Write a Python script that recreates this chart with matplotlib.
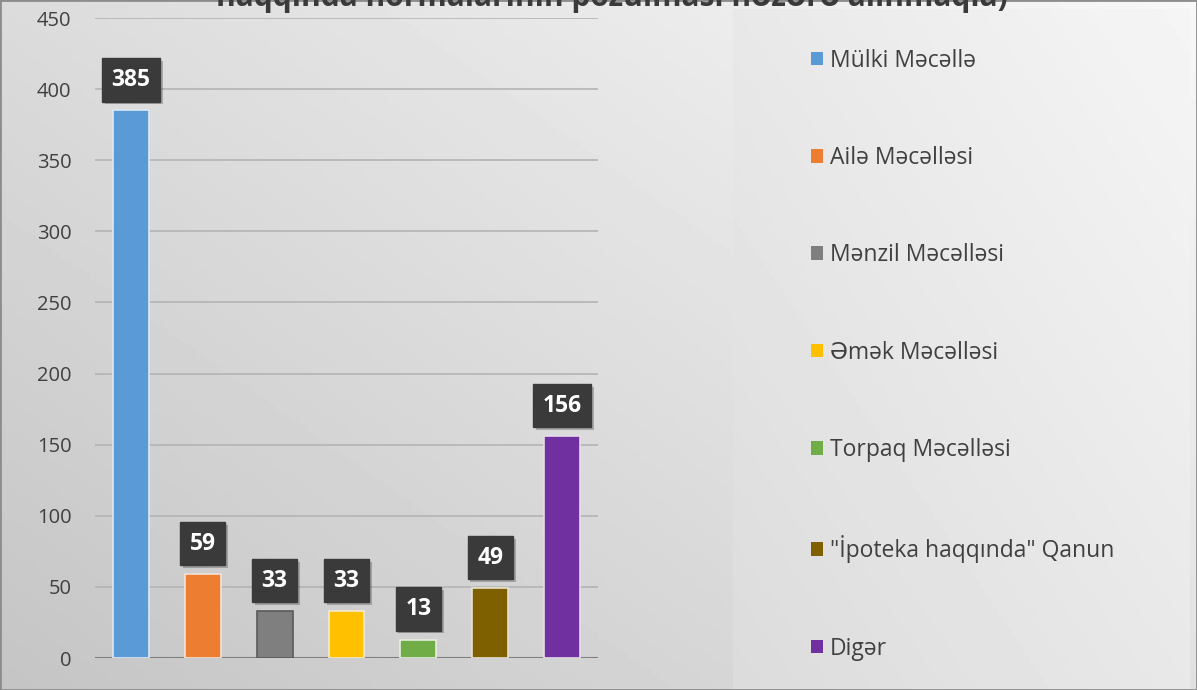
import numpy as np
import matplotlib
matplotlib.use("Agg")
import matplotlib.pyplot as plt
import matplotlib.patheffects as pe
from matplotlib.patches import Rectangle, Patch

plt.rcParams['font.family'] = ['Open Sans', 'DejaVu Sans']

categories = ["Mülki Məcəllə", "Ailə Məcəlləsi", "Mənzil Məcəlləsi", "Əmək Məcəlləsi",
              "Torpaq Məcəlləsi", "\"İpoteka haqqında\" Qanun", "Digər"]
values = [385, 59, 33, 33, 13, 49, 156]
colors = ["#5B9BD5", "#ED7D31", "#7F7F7F", "#FFC000", "#70AD47", "#7F6000", "#7030A0"]
edges = ["#dde8f3", "#f2e2d8", "#595959", "#f2ead2", "#e6eedf", "#e8e2d0", "#e6dcec"]
title = "haqqında normalarının pozulması nəzərə alınmaqla)"

W, H = 1197, 690
fig = plt.figure(figsize=(W / 100, H / 100), dpi=100)

# background gradient
bg = fig.add_axes([0, 0, 1, 1])
xx, yy = np.meshgrid(np.linspace(0, 1, 200), np.linspace(0, 1, 200))
grad = 0.77 + 0.2 * (0.55 * xx + 0.45 * yy)
bg.imshow(grad, cmap="gray", vmin=0, vmax=1, origin="lower", extent=[0, 1, 0, 1], aspect="auto")
# legend panel
lg = np.meshgrid(np.linspace(0, 1, 100), np.linspace(0, 1, 100))
bg.imshow(0.86 + 0.1 * (0.5 * lg[0] + 0.5 * lg[1]), cmap="gray", vmin=0, vmax=1, origin="lower",
          extent=[733 / W, 1190 / W, 0, 1 - 9 / H], aspect="auto")
bg.add_patch(Rectangle((0, 0), 1, 1, fill=False, ec="#8c8c8c", lw=2, transform=bg.transAxes))
bg.set_xlim(0, 1)
bg.set_ylim(0, 1)
bg.axis("off")

ax = fig.add_axes([95 / W, 1 - 658 / H, (598 - 95) / W, (658 - 18) / H])
ax.patch.set_alpha(0)
x = np.arange(len(values))
ax.bar(x, values, width=0.5, color=colors, edgecolor=edges, linewidth=1.2, zorder=3)
ax.set_xlim(-0.5, len(values) - 0.5)
ax.set_ylim(0, 450)
ax.set_yticks(range(0, 451, 50))
ax.tick_params(axis="y", length=0, labelsize=14.5, labelcolor="#404040", pad=17)
ax.set_xticks([])
ax.grid(axis="y", color="#b4b4b4", lw=1.2, zorder=0)
for s in ax.spines.values():
    s.set_visible(False)
ax.axhline(0, color="#7f7f7f", lw=1.5, zorder=2)

for xi, v in zip(x, values):
    ann = ax.annotate(str(v), (xi, v), xytext=(0, 22), textcoords="offset points",
                      ha="center", va="center", fontsize=16.5, fontweight="bold", color="white",
                      bbox=dict(boxstyle="square,pad=0.42", fc="#3a3a3a", ec="#3a3a3a"), zorder=5)
    ann.get_bbox_patch().set_path_effects(
        [pe.SimplePatchShadow(offset=(2, -2), alpha=0.25), pe.Normal()])

fig.text(612 / W, 1 + 2 / H, title, ha="center", va="center", fontsize=21.5,
         fontweight="bold", color="#3a3a3a")

handles = [Patch(facecolor=c, edgecolor="none") for c in colors]
fig.legend(handles, categories, loc="upper left", bbox_to_anchor=(790 / W, 1 - 28 / H),
           frameon=False, fontsize=16.5, labelcolor="#404040", handlelength=0.55, handleheight=0.55,
           handletextpad=0.3, labelspacing=3.2)

fig.savefig("out.png", dpi=100)
